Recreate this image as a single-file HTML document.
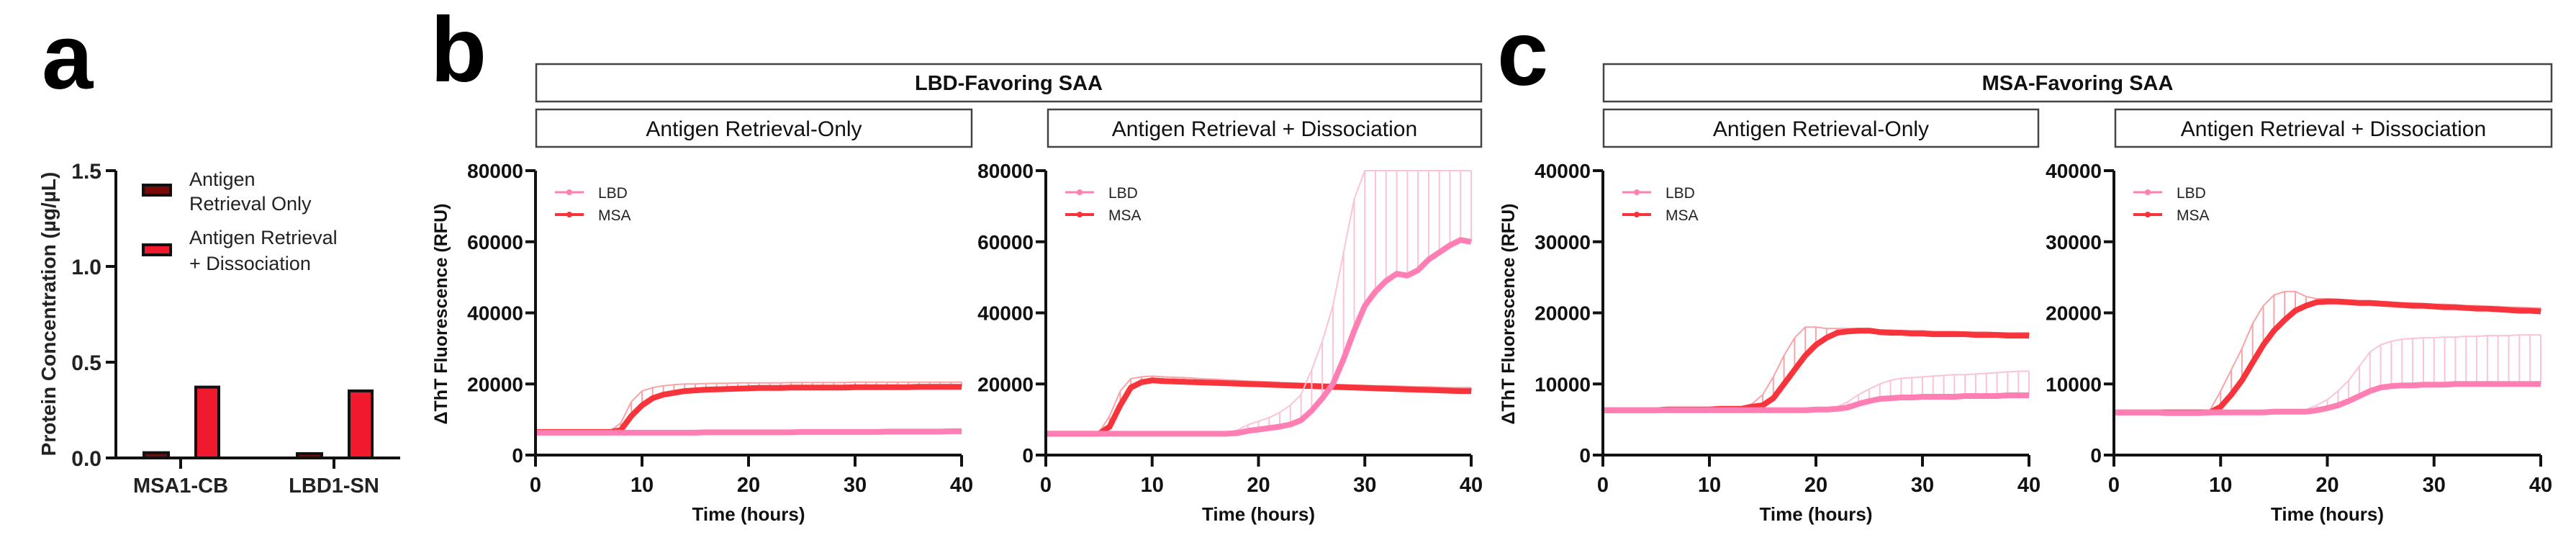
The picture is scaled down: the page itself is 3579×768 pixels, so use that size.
<!DOCTYPE html>
<html><head><meta charset="utf-8"><style>
body{margin:0;background:#fff;}
svg{display:block;font-family:"Liberation Sans",Arial,sans-serif;}
.nar{font-family:"Liberation Sans Narrow","Liberation Sans",sans-serif;}
</style></head><body>
<svg id="fig" width="3579" height="768" viewBox="0 0 3579 768" xmlns="http://www.w3.org/2000/svg">
<g id="root"></g>
</svg>
<script>
// ---- Panel a data ----
const barCategories = ["MSA1-CB","LBD1-SN"];
const barRetrievalOnly = [0.02, 0.015];
const barRetrievalDiss = [0.37, 0.35];
const barTicks = [0.0, 0.5, 1.0, 1.5];

// ---- Time series data (t = 0..40 h) ----
const timeHours = [0,1,2,3,4,5,6,7,8,9,10,11,12,13,14,15,16,17,18,19,20,21,22,23,24,25,26,27,28,29,30,31,32,33,34,35,36,37,38,39,40];
const b1LBD = [6300,6300,6300,6300,6300,6300,6300,6300,6300,6300,6300,6300,6300,6300,6300,6300,6400,6400,6400,6400,6400,6400,6400,6400,6400,6500,6500,6500,6500,6500,6500,6500,6500,6600,6600,6600,6600,6600,6600,6700,6700];
const b1LBDup = [6600,6600,6600,6600,6600,6600,6600,6600,6600,6600,6600,6600,6600,6600,6700,6700,6700,6700,6700,6700,6700,6700,6700,6800,6800,6800,6800,6800,6800,6800,6800,6900,6900,6900,6900,6900,7000,7000,7000,7000,7000];
const b1MSA = [6500,6500,6500,6500,6500,6500,6500,6500,7000,11000,14000,16000,17000,17500,18000,18200,18400,18500,18600,18700,18800,18900,18900,18900,19000,19000,19000,19000,19000,19000,19100,19100,19100,19100,19100,19100,19200,19200,19200,19200,19200];
const b1MSAup = [6800,6800,6800,6800,6800,6800,6800,6800,9000,15000,18000,19000,19500,19800,20000,20000,20100,20200,20200,20300,20300,20300,20300,20300,20400,20400,20400,20400,20400,20400,20500,20500,20500,20500,20500,20500,20500,20500,20500,20500,20500];
const b2MSA = [6000,6000,6000,6000,6000,6000,8000,14000,19000,20500,21000,20800,20700,20600,20500,20400,20300,20200,20100,20000,19900,19800,19700,19600,19500,19400,19300,19200,19100,19000,18900,18800,18700,18600,18500,18400,18300,18200,18100,18000,18000];
const b2MSAup = [6300,6300,6300,6300,6300,6300,11000,18000,21500,22000,22200,22000,21900,21800,21600,21400,21300,21100,21000,20800,20700,20600,20400,20300,20200,20100,20000,19900,19800,19700,19600,19500,19500,19400,19300,19200,19200,19100,19000,19000,19000];
const b2LBD = [6000,6000,6000,6000,6000,6000,6000,6000,6000,6000,6000,6000,6000,6000,6000,6000,6000,6000,6200,6800,7200,7600,8000,8600,9800,12500,16000,20000,27000,35000,42000,46000,49000,51000,50500,52000,55000,57000,59000,60500,60000];
const b2LBDup = [6300,6300,6300,6300,6300,6300,6300,6300,6300,6300,6300,6300,6300,6300,6300,6300,6300,6300,7000,8500,9500,10500,12000,14000,17000,24000,32000,42000,57000,72000,90000,90000,90000,90000,90000,90000,90000,90000,90000,90000,90000];
const c1MSA = [6300,6300,6300,6300,6300,6300,6400,6400,6400,6400,6400,6500,6500,6500,6800,7000,8000,10000,12000,14000,15500,16500,17200,17400,17500,17500,17300,17200,17200,17100,17100,17000,17000,17000,17000,16900,16900,16900,16800,16800,16800];
const c1MSAup = [6600,6600,6600,6600,6600,6600,6700,6700,6700,6700,6700,6800,6800,6800,7200,8500,11000,14000,16500,18000,18000,17800,17800,17800,17800,17700,17600,17600,17500,17500,17500,17400,17400,17400,17300,17300,17300,17200,17200,17200,17200];
const c1LBD = [6300,6300,6300,6300,6300,6300,6300,6300,6300,6300,6300,6300,6300,6300,6300,6300,6300,6300,6300,6300,6400,6400,6500,6700,7200,7600,7900,8000,8100,8100,8200,8200,8200,8200,8300,8300,8300,8300,8400,8400,8400];
const c1LBDup = [6600,6600,6600,6600,6600,6600,6600,6600,6600,6600,6600,6600,6600,6600,6600,6600,6600,6600,6600,6600,6700,6700,6800,7500,8500,9300,10000,10500,10800,10900,11000,11100,11200,11300,11300,11400,11500,11600,11700,11800,11800];
const c2MSA = [6000,6000,6000,6000,6000,6000,6000,6000,6000,6000,6800,8500,10500,13000,15500,17500,19000,20300,21000,21500,21600,21600,21500,21400,21400,21300,21200,21100,21000,21000,20900,20800,20800,20700,20600,20600,20500,20400,20300,20300,20200];
const c2MSAup = [6300,6300,6300,6300,6300,6300,6300,6300,6300,6300,9000,12000,15000,18500,21000,22500,23000,23000,22300,22000,22000,21900,21800,21700,21700,21600,21500,21400,21400,21300,21200,21200,21100,21000,21000,20900,20900,20800,20800,20700,20700];
const c2LBD = [6000,6000,6000,6000,6000,5900,5900,5900,5900,6000,6000,6000,6000,6000,6000,6100,6100,6100,6100,6300,6600,7000,7600,8300,9000,9500,9700,9800,9800,9900,9900,9900,10000,10000,10000,10000,10000,10000,10000,10000,10000];
const c2LBDup = [6300,6300,6300,6300,6300,6200,6200,6200,6200,6300,6300,6300,6300,6300,6300,6400,6400,6400,6400,7000,7800,9000,10500,12500,14500,15500,16000,16300,16400,16500,16500,16600,16600,16700,16700,16800,16800,16800,16900,16900,16900];
const ticksB = [0,20000,40000,60000,80000];
const ticksC = [0,10000,20000,30000,40000];
const timeTicks = [0,10,20,30,40];

const NS="http://www.w3.org/2000/svg";
const root=document.getElementById('root');
function mk(tag,attrs,parent,text){const e=document.createElementNS(NS,tag);for(const k in attrs)e.setAttribute(k,attrs[k]);if(text!==undefined)e.textContent=text;(parent||root).appendChild(e);return e;}

// ---------- Panel letters ----------
let t;
t=mk('text',{x:58,y:123,'font-size':128,'font-weight':'bold'},root,'a');


t=mk('text',{x:598,y:113,'font-size':128,'font-weight':'bold'},root,'b');


t=mk('text',{x:2080,y:118,'font-size':128,'font-weight':'bold'},root,'c');



// ---------- Panel a ----------
(function(){
  const g=mk('g',{});
  
  
  const ax=161, x1=556, yTop=237, yBot=636, vmax=1.5;
  const ys=v=>yBot-(v/vmax)*(yBot-yTop);
  const catX=[251,464];
  for(let i=0;i<barCategories.length;i++){
    const cx=catX[i];
    const h1=yBot-ys(barRetrievalOnly[i]);
    let r=mk('rect',{x:cx-51,y:ys(barRetrievalOnly[i])-2,width:34,height:Math.max(h1,2)+2,fill:'#7a0a0a',stroke:'#111','stroke-width':4},g);
    
    
    r=mk('rect',{x:cx+21,y:ys(barRetrievalDiss[i]),width:32,height:yBot-ys(barRetrievalDiss[i]),fill:'#f0192d',stroke:'#111','stroke-width':4},g);
    
    
    mk('line',{x1:cx,y1:yBot,x2:cx,y2:yBot+15,stroke:'#111','stroke-width':4},g);
    r=mk('text',{x:cx,y:684,'font-size':29,'font-weight':'bold','text-anchor':'middle',fill:'#222'},g,barCategories[i]);
    
    
  }
  mk('line',{x1:ax,y1:yTop,x2:ax,y2:yBot+2,stroke:'#111','stroke-width':4},g);
  mk('line',{x1:ax-2,y1:yBot,x2:x1,y2:yBot,stroke:'#111','stroke-width':4},g);
  barTicks.forEach(v=>{
    mk('line',{x1:ax-14,y1:ys(v),x2:ax,y2:ys(v),stroke:'#111','stroke-width':4},g);
    const tt=mk('text',{x:ax-20,y:ys(v)+11,'font-size':30,'text-anchor':'end',fill:'#222','font-weight':'bold'},g,v.toFixed(1));
    
    
  });
  let yt=mk('text',{x:0,y:0,'font-size':28,'font-weight':'bold','text-anchor':'middle',fill:'#222',transform:'translate(77,436) rotate(-90)'},g,'Protein Concentration (µg/µL)');
  
  
  // legend
  let s=mk('rect',{x:199,y:257,width:38,height:14,fill:'#7a0a0a',stroke:'#111','stroke-width':4},g);
  
  
  s=mk('rect',{x:199,y:340,width:38,height:14,fill:'#f0192d',stroke:'#111','stroke-width':4},g);
  
  
  [['Antigen',258],['Retrieval Only',292],['Antigen Retrieval',339],['+ Dissociation',375]].forEach(a=>{
    const e=mk('text',{x:263,y:a[1],'font-size':27,fill:'#222'},g,a[0]);
    
    
  });
})();

// ---------- Time-course panels ----------
function header(x0,x1,text){
  const r=mk('rect',{x:x0,y:89,width:x1-x0,height:52,fill:'#fff',stroke:'#444','stroke-width':2.5});
  
  
  const tt=mk('text',{x:(x0+x1)/2,y:125,'font-size':29,'font-weight':'bold','text-anchor':'middle',fill:'#111',class:'nar'},root,text);
  
  
}
function sub(x0,x1,text){
  const r=mk('rect',{x:x0,y:152,width:x1-x0,height:52,fill:'#fff',stroke:'#444','stroke-width':2.5});
  
  
  const tt=mk('text',{x:(x0+x1)/2,y:189,'font-size':30,'text-anchor':'middle',fill:'#111',class:'nar'},root,text);
  
  
}
header(745,2058,'LBD-Favoring SAA');
sub(745,1350,'Antigen Retrieval-Only');
sub(1456,2058,'Antigen Retrieval + Dissociation');
header(2228,3545,'MSA-Favoring SAA');
sub(2228,2832,'Antigen Retrieval-Only');
sub(2939,3545,'Antigen Retrieval + Dissociation');

const MSAc='#f7343c', MSAerr='#f9a3a6', LBDc='#ff7fb5', LBDerr='#fbc3da';
function panel(name,ax,x1,vmax,ticks,lbd,lbdUp,msa,msaUp,showTitle){
  const yTop=237,yBot=632;
  const g=mk('g',{});
  
  
  const xs=h=>ax+(h/40)*(x1-ax);
  const ys=v=>yBot-(Math.min(v,vmax)/vmax)*(yBot-yTop);
  function series(mean,up,col,ecol,label){
    const sg=mk('g',{},g);
    
    
    for(let i=0;i<timeHours.length;i++){
      const x=xs(timeHours[i]);
      const e=mk('line',{x1:x,y1:ys(mean[i]),x2:x,y2:ys(up[i]),stroke:ecol,'stroke-width':2},sg);
      
      
    }
    let pu='';
    for(let i=0;i<timeHours.length;i++)pu+=(i?'L':'M')+xs(timeHours[i]).toFixed(1)+','+ys(up[i]).toFixed(1);
    mk('path',{d:pu,fill:'none',stroke:ecol,'stroke-width':2},sg);
    let p='';
    for(let i=0;i<timeHours.length;i++)p+=(i?'L':'M')+xs(timeHours[i]).toFixed(1)+','+ys(mean[i]).toFixed(1);
    const pl=mk('path',{d:p,fill:'none',stroke:col,'stroke-width':8,'stroke-linejoin':'round'},sg);
    
    
  }
  series(msa,msaUp,MSAc,MSAerr,'msa');
  series(lbd,lbdUp,LBDc,LBDerr,'lbd');
  // axes
  mk('line',{x1:ax,y1:yTop,x2:ax,y2:yBot+15,stroke:'#111','stroke-width':4},g);
  mk('line',{x1:ax-14,y1:yBot,x2:x1,y2:yBot,stroke:'#111','stroke-width':4},g);
  ticks.forEach(v=>{
    mk('line',{x1:ax-14,y1:ys(v),x2:ax,y2:ys(v),stroke:'#111','stroke-width':4},g);
    const tt=mk('text',{x:ax-17,y:ys(v)+10,'font-size':28,'font-weight':'bold','text-anchor':'end',fill:'#111',class:'nar'},g,String(v));
    
    
  });
  timeTicks.forEach(h=>{
    mk('line',{x1:xs(h),y1:yBot,x2:xs(h),y2:yBot+16,stroke:'#111','stroke-width':4},g);
    const tt=mk('text',{x:xs(h),y:683,'font-size':29,'font-weight':'bold','text-anchor':'middle',fill:'#111',class:'nar'},g,String(h));
    
    
  });
  const xt=mk('text',{x:(ax+x1)/2,y:723,'font-size':26,'font-weight':'bold','text-anchor':'middle',fill:'#111',class:'nar'},g,'Time (hours)');
  
  
  if(showTitle){
    const yt=mk('text',{x:0,y:0,'font-size':25,'font-weight':'bold','text-anchor':'middle',fill:'#111',transform:'translate('+(ax-123)+',436) rotate(-90)'},g,'ΔThT Fluorescence (RFU)');
    
    
  }
  // legend
  const lx=ax+27;
  [['LBD',LBDc,267,3],['MSA',MSAc,298,4]].forEach(a=>{
    const l=mk('line',{x1:lx,y1:a[2],x2:lx+40,y2:a[2],stroke:a[1],'stroke-width':a[3]},g);
    
    
    mk('circle',{cx:lx+20,cy:a[2],r:4,fill:a[1]},g);
    const tt=mk('text',{x:lx+60,y:a[2]+8,'font-size':21,fill:'#222',class:'nar'},g,a[0]);
    
    
  });
}
panel('chart-b-retrieval-only',744,1336,80000,ticksB,b1LBD,b1LBDup,b1MSA,b1MSAup,true);
panel('chart-b-retrieval-dissociation',1453,2044,80000,ticksB,b2LBD,b2LBDup,b2MSA,b2MSAup,false);
panel('chart-c-retrieval-only',2227,2819,40000,ticksC,c1LBD,c1LBDup,c1MSA,c1MSAup,true);
panel('chart-c-retrieval-dissociation',2937,3530,40000,ticksC,c2LBD,c2LBDup,c2MSA,c2MSAup,false);
</script>
</body></html>
